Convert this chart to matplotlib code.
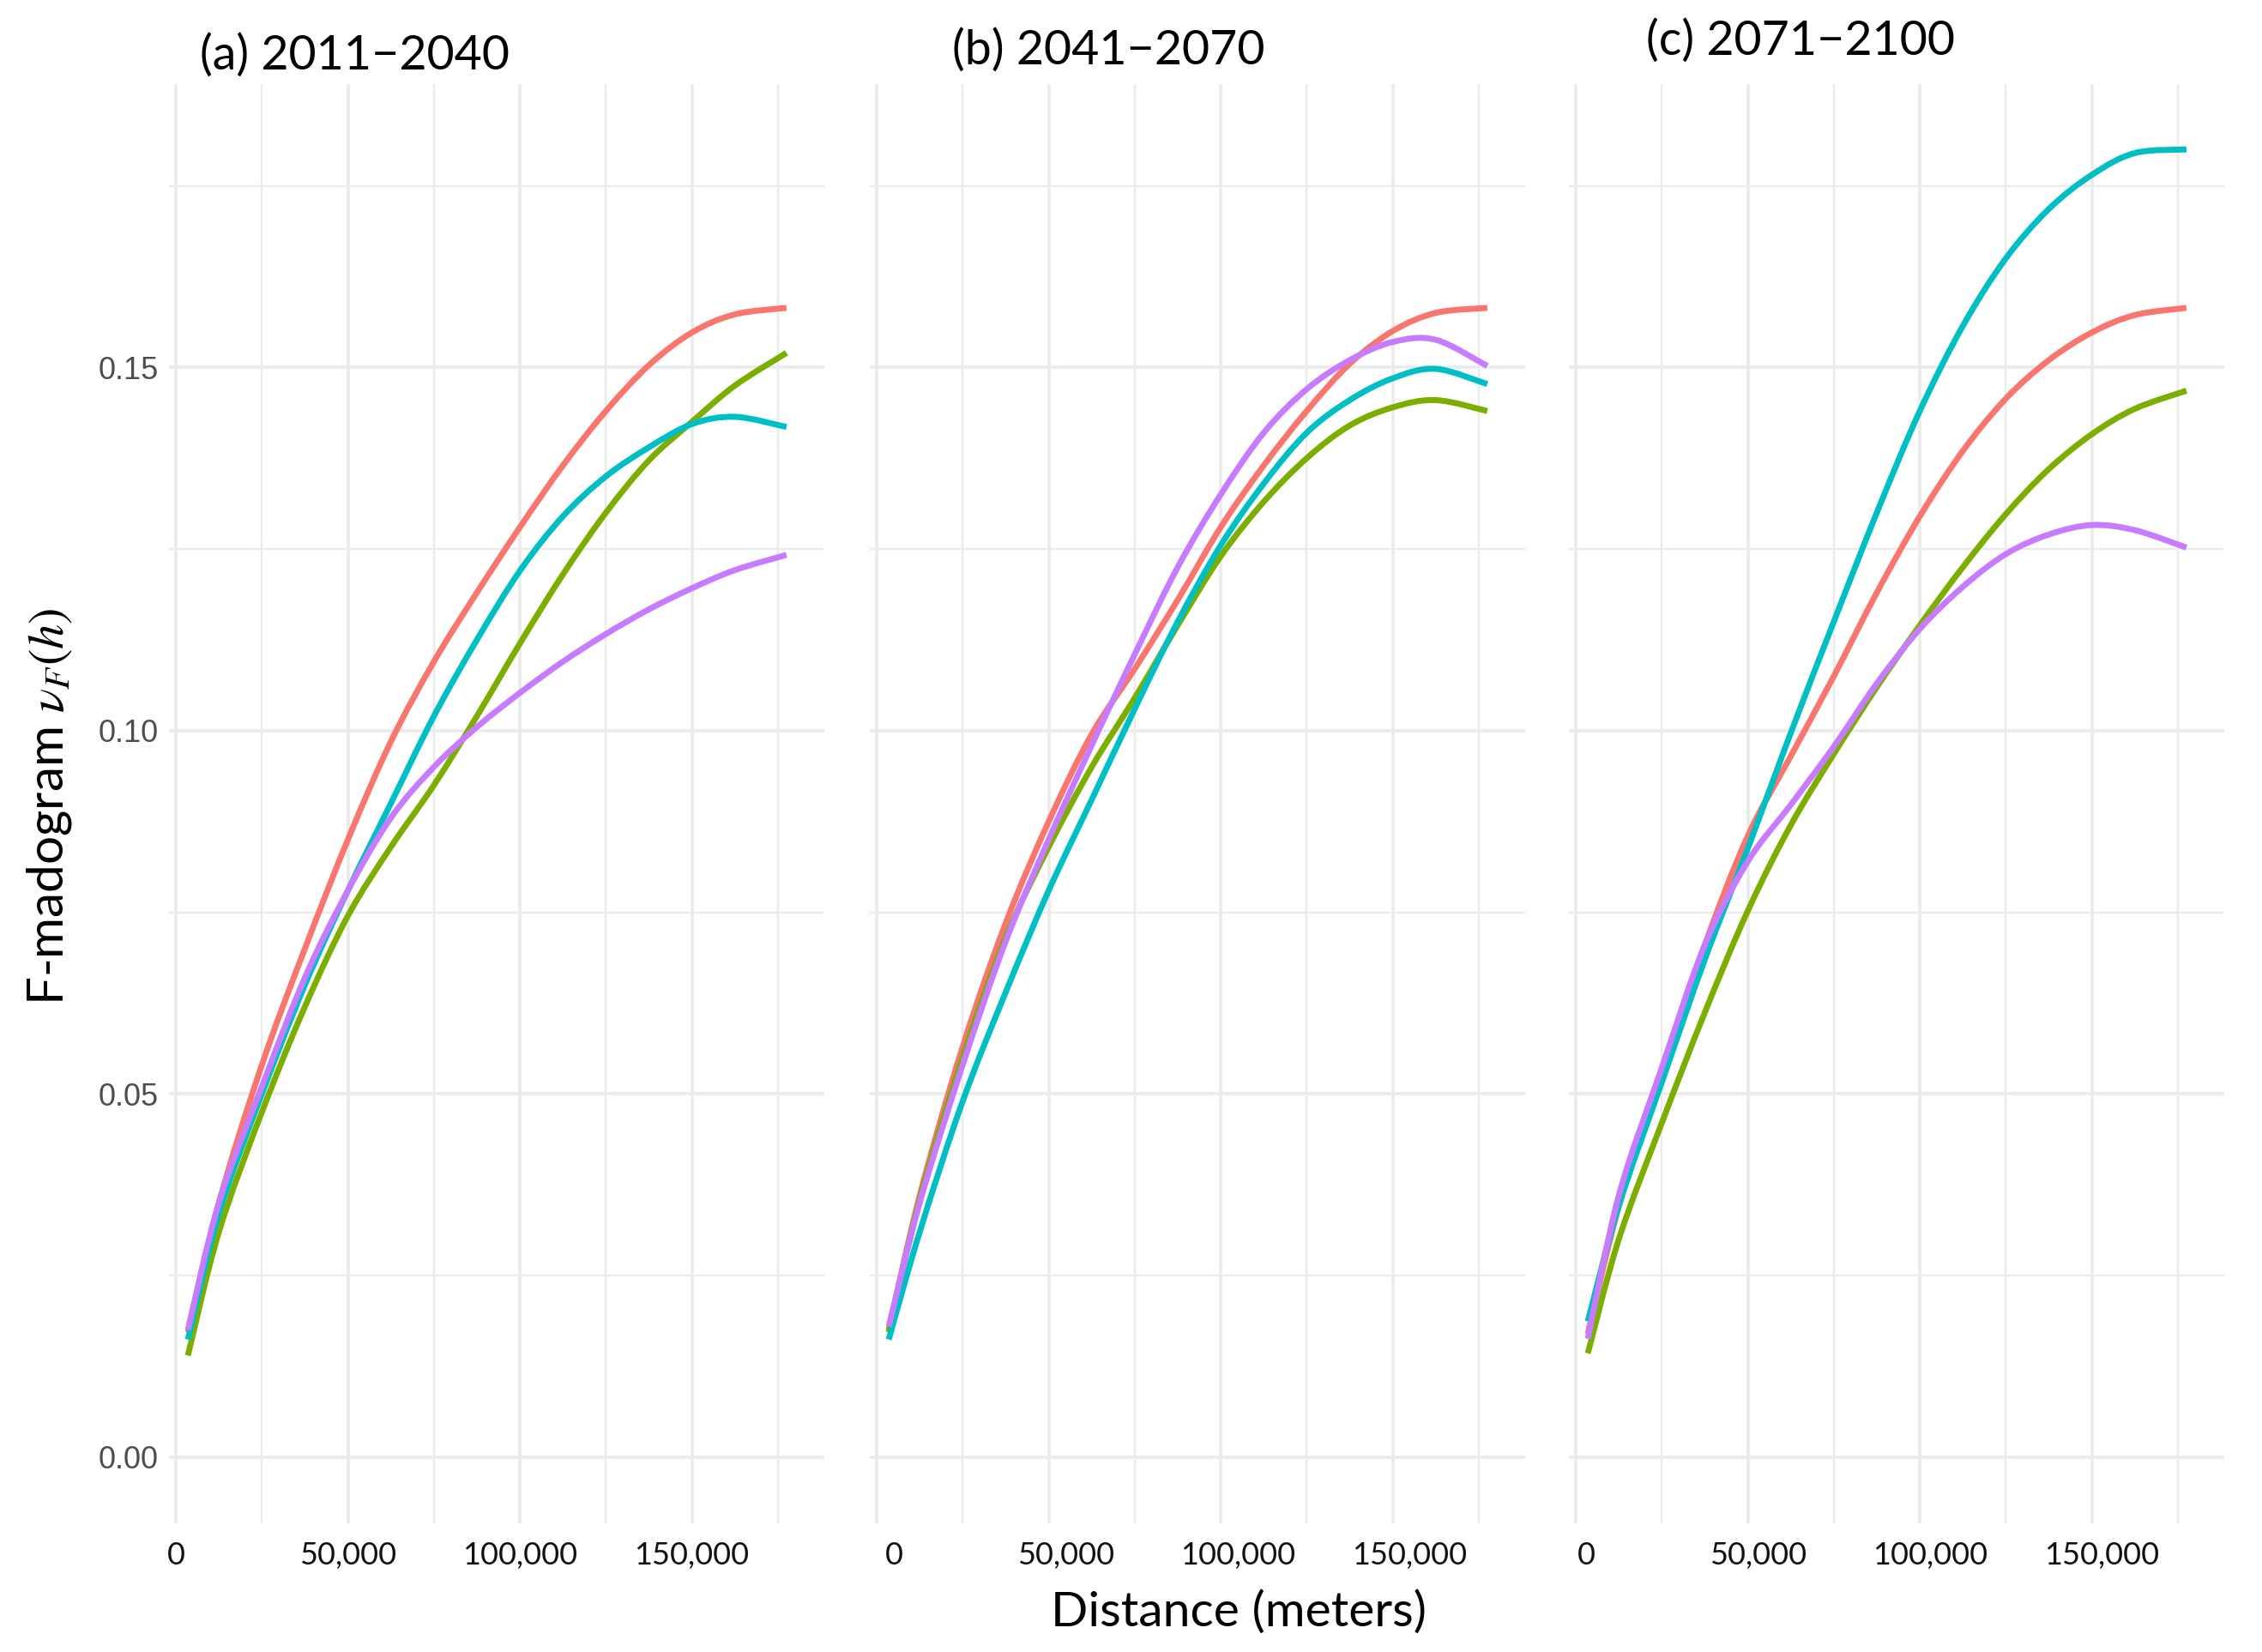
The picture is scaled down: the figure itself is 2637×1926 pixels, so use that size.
import numpy as np
import matplotlib
matplotlib.use('Agg')
import matplotlib.pyplot as plt
from matplotlib.path import Path
from matplotlib.patches import PathPatch
from matplotlib.transforms import ScaledTranslation

plt.rcParams['mathtext.fontset'] = 'stix'

# 数据：距离(米)及三个时期四条曲线的 F-madogram 值
distance = [3500, 12500, 25000, 37500, 50000, 62500, 75000, 87500,
            100000, 112500, 125000, 137500, 150000, 162500, 177500]

# (a) 2011-2040
a_red = [0.0172, 0.0350, 0.0540, 0.0700, 0.0850, 0.0985, 0.1095, 0.1190,
         0.1280, 0.1365, 0.1440, 0.1503, 0.1548, 0.1573, 0.1582]
a_green = [0.0140, 0.0310, 0.0475, 0.0620, 0.0745, 0.0840, 0.0925, 0.1020,
           0.1120, 0.1215, 0.1300, 0.1372, 0.1425, 0.1475, 0.1520]
a_cyan = [0.0162, 0.0335, 0.0500, 0.0650, 0.0780, 0.0900, 0.1020, 0.1125,
          0.1220, 0.1295, 0.1350, 0.1390, 0.1422, 0.1432, 0.1418]
a_purple = [0.0175, 0.0350, 0.0510, 0.0660, 0.0780, 0.0880, 0.0950, 0.1005,
            0.1052, 0.1095, 0.1133, 0.1167, 0.1196, 0.1221, 0.1242]

# (b) 2041-2070
b_red = [0.0175, 0.0360, 0.0565, 0.0735, 0.0875, 0.0995, 0.1085, 0.1180,
         0.1280, 0.1365, 0.1440, 0.1505, 0.1550, 0.1575, 0.1582]
b_green = [0.0172, 0.0355, 0.0550, 0.0715, 0.0840, 0.0950, 0.1045, 0.1145,
           0.1240, 0.1315, 0.1375, 0.1420, 0.1445, 0.1455, 0.1440]
b_cyan = [0.0162, 0.0310, 0.0490, 0.0640, 0.0780, 0.0905, 0.1030, 0.1150,
          0.1255, 0.1340, 0.1410, 0.1455, 0.1485, 0.1498, 0.1477]
b_purple = [0.0180, 0.0350, 0.0540, 0.0710, 0.0850, 0.0980, 0.1105, 0.1225,
            0.1325, 0.1410, 0.1470, 0.1510, 0.1535, 0.1538, 0.1502]

# (c) 2071-2100
c_red = [0.0170, 0.0345, 0.0530, 0.0705, 0.0855, 0.0965, 0.1075, 0.1190,
         0.1295, 0.1385, 0.1457, 0.1510, 0.1548, 0.1572, 0.1582]
c_green = [0.0143, 0.0300, 0.0460, 0.0612, 0.0752, 0.0870, 0.0968, 0.1060,
           0.1145, 0.1225, 0.1298, 0.1360, 0.1408, 0.1443, 0.1468]
c_cyan = [0.0187, 0.0346, 0.0516, 0.0685, 0.0838, 0.0997, 0.1150, 0.1300,
          0.1440, 0.1557, 0.1650, 0.1718, 0.1765, 0.1795, 0.1800]
c_purple = [0.0163, 0.0360, 0.0536, 0.0705, 0.0820, 0.0898, 0.0978, 0.1065,
            0.1140, 0.1198, 0.1243, 0.1270, 0.1283, 0.1276, 0.1252]

titles = ['(a) 2011\u22122040', '(b) 2041\u22122070', '(c) 2071\u22122100']
panels = [[a_red, a_green, a_cyan, a_purple],
          [b_red, b_green, b_cyan, b_purple],
          [c_red, c_green, c_cyan, c_purple]]
colors = ['#F8766D', '#7CAE00', '#00BFC4', '#C77CFF']


def smooth_path(xs, ys):
    # 通过数据点的平滑曲线(Catmull-Rom 转三次贝塞尔)
    p = np.column_stack([xs, ys]).astype(float)
    verts = [p[0]]
    codes = [Path.MOVETO]
    n = len(p)
    for k in range(n - 1):
        p0 = p[k - 1] if k > 0 else p[k]
        p3 = p[k + 2] if k + 2 < n else p[k + 1]
        c1 = p[k] + (p[k + 1] - p0) / 6
        c2 = p[k + 1] - (p3 - p[k]) / 6
        verts += [c1, c2, p[k + 1]]
        codes += [Path.CURVE4] * 3
    return Path(verts, codes)


W, H = 2637, 1926
fig = plt.figure(figsize=(W / 100, H / 100), dpi=100)

# 各子图位置(像素)
lefts = [197, 1014, 1829]
pw = 764
top, bottom = 98, 1776
title_pos = [(233, 65), (1110, 59), (1919, 48)]
tick_shift = [0, 20, 12]  # 参考图中刻度标签略有偏移

for i in range(3):
    ax = fig.add_axes([lefts[i] / W, 1 - bottom / H, pw / W, (bottom - top) / H])
    for ys, col in zip(panels[i], colors):
        ax.add_patch(PathPatch(smooth_path(distance, ys), fill=False, edgecolor=col,
                               lw=5.0, capstyle='butt', zorder=3))
    ax.set_xlim(-2000, 188500)
    ax.set_ylim(-0.0091, 0.189)
    ax.set_xticks([0, 50000, 100000, 150000])
    ax.set_xticklabels(['0', '50,000', '100,000', '150,000'])
    ax.set_xticks([25000, 75000, 125000, 175000], minor=True)
    ax.set_yticks([0, 0.05, 0.10, 0.15])
    ax.set_yticks([0.025, 0.075, 0.125, 0.175], minor=True)
    ax.grid(which='major', color='#EBEBEB', lw=2.6, zorder=0)
    ax.grid(which='minor', color='#EBEBEB', lw=1.6, zorder=0)
    for s in ax.spines.values():
        s.set_visible(False)
    ax.tick_params(which='both', length=0)
    ax.tick_params(axis='x', pad=15, labelsize=26, labelcolor='#111111')
    for lab in ax.get_xticklabels():
        lab.set_family('Lato')
        lab.set_transform(lab.get_transform() +
                          ScaledTranslation(tick_shift[i] / 100, 0, fig.dpi_scale_trans))
    if i == 0:
        ax.set_yticklabels(['0.00', '0.05', '0.10', '0.15'])
        ax.tick_params(axis='y', pad=9, labelsize=26, labelcolor='#4D4D4D')
        for lab in ax.get_yticklabels():
            lab.set_family('Liberation Sans')
    else:
        ax.set_yticklabels([])
    tx, ty = title_pos[i]
    fig.text(tx / W, 1 - ty / H, titles[i], ha='left', va='center',
             fontsize=40, family='Lato', color='black')

fig.text(1444 / W, 1 - 1880 / H, 'Distance (meters)', ha='center', va='center',
         fontsize=41, family='Lato', color='black')
fig.text(58 / W, 1 - 940 / H, r'F-madogram $\nu_F(h)$', ha='center', va='center',
         rotation=90, fontsize=42, family='Lato', color='black')

fig.savefig('out.png', dpi=100, facecolor='white')
